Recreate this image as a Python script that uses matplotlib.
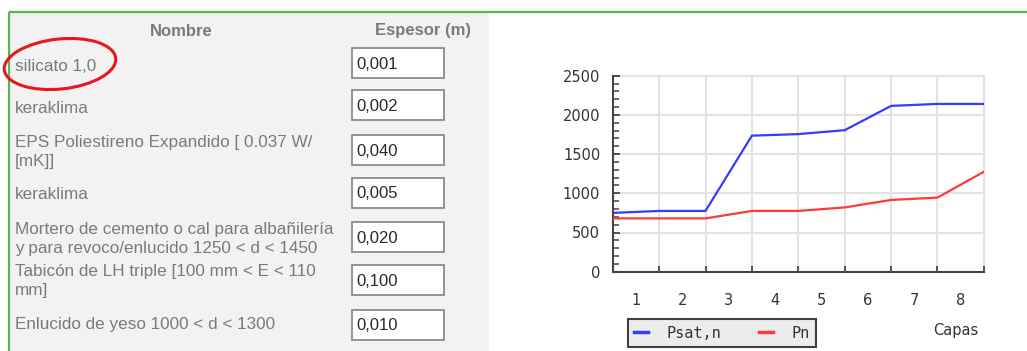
import matplotlib
matplotlib.use("Agg")
import matplotlib.pyplot as plt
from matplotlib.patches import Rectangle, Ellipse

# ---------------- data ----------------
nombres = [
    "silicato 1,0",
    "keraklima",
    "EPS Poliestireno Expandido [ 0.037 W/\n[mK]]",
    "keraklima",
    "Mortero de cemento o cal para albañilería\ny para revoco/enlucido 1250 < d < 1450",
    "Tabicón de LH triple [100 mm < E < 110\nmm]",
    "Enlucido de yeso 1000 < d < 1300",
]
espesores = ["0,001", "0,002", "0,040", "0,005", "0,020", "0,100", "0,010"]
capas = ["1", "2", "3", "4", "5", "6", "7", "8"]
psat_n = [750, 775, 775, 1735, 1755, 1805, 2115, 2140, 2140]
pn = [680, 680, 680, 775, 775, 820, 915, 945, 1275]

# ---------------- layout (pixels) ----------------
W, H = 1027, 351
fig = plt.figure(figsize=(W / 100, H / 100), dpi=100)
fig.patch.set_facecolor("white")

bg = fig.add_axes([0, 0, 1, 1])
bg.set_xlim(0, W)
bg.set_ylim(H, 0)
bg.axis("off")
bg.set_zorder(0)

# left grey panel
bg.add_patch(Rectangle((9, 12), 480, 340, facecolor="#f2f2f2", edgecolor="none"))
# green frame
bg.plot([9, W], [12, 12], color="#5ab552", lw=1.6, solid_capstyle="butt")
bg.plot([9, 9], [12, H], color="#5ab552", lw=1.6, solid_capstyle="butt")

txt_col = "#7a7a7a"
bg.text(181, 31, "Nombre", ha="center", va="center", fontsize=12,
        fontweight="bold", color="#7a7a7a", family="Liberation Sans")
bg.text(423, 31, "Espesor (m)", ha="center", va="center", fontsize=12,
        fontweight="bold", color="#7a7a7a", family="Liberation Sans")

baselines = [71, 113.3, 146.7, 199.3, 234, 276, 329.3]
box_centers = [63, 105.3, 150.3, 192.5, 237, 279.5, 324.5]
line_gap = 19.5
for i, (nm, esp) in enumerate(zip(nombres, espesores)):
    for j, line in enumerate(nm.split("\n")):
        bg.text(15, baselines[i] + j * line_gap, line, ha="left", va="baseline",
                fontsize=12.3, color=txt_col, family="Liberation Sans")
    cy = box_centers[i]
    bg.add_patch(Rectangle((352, cy - 15), 92, 30, facecolor="white",
                           edgecolor="#8c8c8c", lw=1.3))
    bg.text(356, cy + 6, esp, ha="left", va="baseline", fontsize=12,
            color="#2a2a2a", family="Liberation Sans")

# red ellipse
bg.add_patch(Ellipse((60, 64), 112, 50, angle=-6, facecolor="none",
                     edgecolor="#e8171b", lw=2.2, clip_on=False, zorder=5))

# ---------------- chart ----------------
x0, x1 = 612.7, 983.9
y0, y1 = 271.7, 75.7
ax = fig.add_axes([x0 / W, 1 - y0 / H, (x1 - x0) / W, (y0 - y1) / H])
ax.set_zorder(2)
ax.set_facecolor("white")

xs = list(range(len(psat_n)))
l1, = ax.plot(xs, psat_n, color="#3a3aff", lw=1.6, label="Psat,n", zorder=3)
l2, = ax.plot(xs, pn, color="#ff3a3a", lw=1.6, label="Pn", zorder=3)

ax.set_xlim(0, len(capas))
ax.set_ylim(0, 2500)

for s in ["top", "right"]:
    ax.spines[s].set_visible(False)
for s in ["left", "bottom"]:
    ax.spines[s].set_color("#444444")
    ax.spines[s].set_linewidth(1.5)

ax.set_xticks(range(0, len(capas) + 1))
ax.set_xticklabels([])
ax.set_xticks([k + 0.5 for k in range(len(capas))], minor=True)
ax.set_xticklabels(capas, minor=True)
ax.tick_params(axis="x", which="major", direction="in", length=4, width=1.3,
               color="#444444")
ax.tick_params(axis="x", which="minor", length=0, pad=15, labelsize=10.5,
               labelcolor="#333333")

ax.set_yticks(range(0, 2501, 500))
ax.set_yticks(range(0, 2501, 100), minor=True)
ax.tick_params(axis="y", which="major", direction="in", length=5, width=1.3,
               color="#444444", pad=9, labelsize=10.5, labelcolor="#333333")
ax.tick_params(axis="y", which="minor", direction="in", length=4, width=1.1,
               color="#444444")

ax.grid(True, which="major", color="#e2e2e2", lw=1.5, zorder=0)
ax.set_axisbelow(True)

# top and right grid borders
ax.axhline(2500, color="#e2e2e2", lw=1.5, zorder=0, clip_on=False)
ax.axvline(len(capas), color="#e2e2e2", lw=1.5, zorder=0, clip_on=False)

bg.text(956, 330, "Capas", ha="center", va="center", fontsize=10.5,
        color="#333333")

leg = fig.legend(handles=[l1, l2], loc="center", ncol=2,
                 bbox_to_anchor=(626 / W, 1 - 350 / H, (818 - 626) / W, 34 / H),
                 frameon=True, fancybox=False, edgecolor="#404040",
                 facecolor="#ececec", framealpha=1, handlelength=0.9,
                 handletextpad=1.2, columnspacing=2.5, borderpad=0.4,
                 prop={"family": "DejaVu Sans Mono", "size": 11})
leg.get_frame().set_linewidth(1.5)
for t in leg.get_texts():
    t.set_color("#333333")
for h in leg.legend_handles:
    h.set_linewidth(2.5)

fig.savefig("out.png", dpi=100)
